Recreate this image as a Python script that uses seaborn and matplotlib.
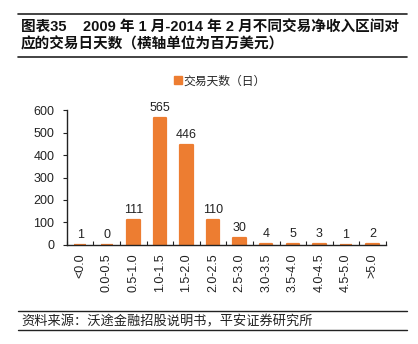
import matplotlib
matplotlib.use("Agg")
import matplotlib.pyplot as plt
import seaborn as sns
import pandas as pd
from matplotlib.patches import Patch
from matplotlib.lines import Line2D

categories = ["<0.0", "0.0-0.5", "0.5-1.0", "1.0-1.5", "1.5-2.0", "2.0-2.5",
              "2.5-3.0", "3.0-3.5", "3.5-4.0", "4.0-4.5", "4.5-5.0", ">5.0"]
days = [1, 0, 111, 565, 446, 110, 30, 4, 5, 3, 1, 2]
yticks = [0, 100, 200, 300, 400, 500, 600]

title_line1 = "图表35    2009 年 1 月-2014 年 2 月不同交易净收入区间对"
title_line2 = "应的交易日天数（横轴单位为百万美元）"
legend_label = "交易天数（日）"
source_text = "资料来源：沃途金融招股说明书，平安证券研究所"

sns.set_theme(style="white")
plt.rcParams['font.family'] = ['Liberation Sans', 'Noto Sans CJK SC', 'DejaVu Sans']
cjk = ['Noto Sans CJK SC', 'DejaVu Sans']

color = "#ED7D31"
df = pd.DataFrame({"cat": categories, "days": days})

fig = plt.figure(figsize=(4.18, 3.44), dpi=100)
ax = fig.add_axes([0.160, 0.288, 0.763, 0.392])

sns.barplot(data=df, x="cat", y="days", color=color, width=0.47,
            edgecolor=color, linewidth=1.6, saturation=1, ax=ax)
for p in ax.patches:
    p.set_joinstyle("round")

for i, v in enumerate(days):
    ax.text(i, max(v, 0) + 18, str(v), ha="center", va="bottom",
            fontsize=9, color="#222222")

ax.set_ylim(0, 600)
ax.set_xlim(-0.5, len(categories) - 0.5)
ax.set_yticks(yticks)
ax.set_yticklabels([str(t) for t in yticks], fontsize=9, color="#222222")
ax.set_xticks(range(len(categories)))
ax.set_xticklabels(categories, rotation=90, fontsize=9, color="#222222")
ax.set_xlabel("")
ax.set_ylabel("")
for s in ["top", "right"]:
    ax.spines[s].set_visible(False)
for s in ["left", "bottom"]:
    ax.spines[s].set_color("#222222")
    ax.spines[s].set_linewidth(1.0)
ax.tick_params(axis="y", which="major", direction="out", length=3, width=0.8,
               left=True, pad=6, color="#222222")
ax.tick_params(axis="x", which="major", length=0, pad=6)
ax.set_xticks([i + 0.5 for i in range(-1, len(categories))], minor=True)
ax.tick_params(axis="x", which="minor", direction="in", length=3, width=0.8,
               bottom=True, color="#222222")

handle = Patch(facecolor=color, edgecolor=color)
fig.legend([handle], [legend_label], loc="center", bbox_to_anchor=(0.525, 0.765),
           frameon=False, prop={'family': cjk, 'size': 8.5},
           handlelength=0.7, handleheight=0.7, handletextpad=0.1, borderaxespad=0)

fig.add_artist(Line2D([0.043, 0.974], [0.958, 0.958], color="#222222", lw=1.2))
fig.text(0.050, 0.920, title_line1, fontsize=10.5, fontweight="bold",
         family=['Liberation Sans', 'Noto Sans CJK SC'], va="center", ha="left", color="#111111")
fig.text(0.050, 0.873, title_line2, fontsize=10.5, fontweight="bold",
         family=cjk, va="center", ha="left", color="#111111")
fig.add_artist(Line2D([0.043, 0.974], [0.834, 0.834], color="#222222", lw=1.2))

fig.add_artist(Line2D([0.043, 0.974], [0.095, 0.095], color="#222222", lw=1.0))
fig.text(0.050, 0.065, source_text, fontsize=9.5, style="italic",
         family=cjk, va="center", ha="left", color="#222222")
fig.add_artist(Line2D([0.043, 0.974], [0.040, 0.040], color="#222222", lw=1.0))

fig.savefig("out.png", dpi=100, facecolor="white")
